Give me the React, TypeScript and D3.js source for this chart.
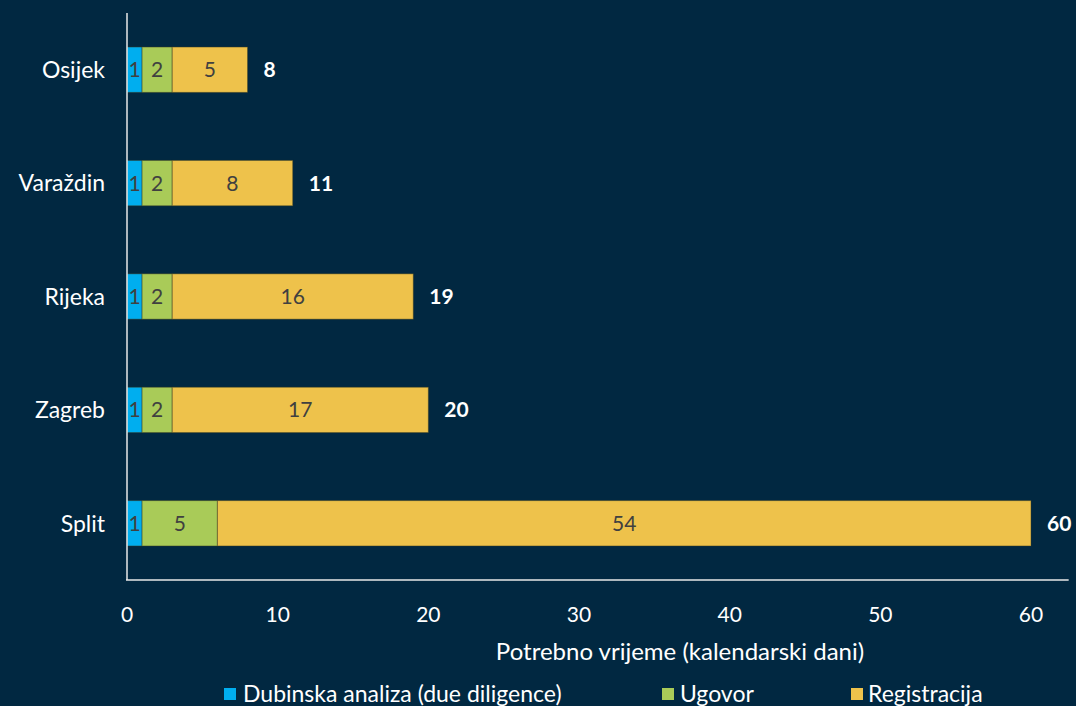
import React from "react";
import * as d3 from "d3";

const cities = ["Osijek", "Varaždin", "Rijeka", "Zagreb", "Split"];
const dueDiligence = [1, 1, 1, 1, 1];
const ugovor = [2, 2, 2, 2, 5];
const registracija = [5, 8, 16, 17, 54];
const totals = [8, 11, 19, 20, 60];
const xTicks = [0, 10, 20, 30, 40, 50, 60];
const seriesNames = ["Dubinska analiza (due diligence)", "Ugovor", "Registracija"];
const seriesColors = ["#00AEEF", "#A9CB58", "#EEC24B"];

const W = 1076;
const H = 706;
const BG = "#012841";
const FONT = "Lato, 'Open Sans', sans-serif";

export default function App() {
  const x = d3.scaleLinear().domain([0, 60]).range([127, 1031]);
  const y = d3.scaleBand<string>().domain(cities).range([13, 580]).paddingInner(0.6).paddingOuter(0.3);
  const seriesVals = [dueDiligence, ugovor, registracija];
  const rows = cities.map((c, i) => {
    const obj: any = { city: c };
    seriesVals.forEach((s, k) => (obj["s" + k] = s[i]));
    return obj;
  });
  const stack = d3.stack<any>().keys(["s0", "s1", "s2"])(rows);
  const legendX = [224, 662, 851];
  const legendGap = [19, 18, 17];

  return (
    <svg width={W} height={H} style={{ position: "absolute", left: 0, top: 0, background: BG }} fontFamily={FONT}>
      <rect x={0} y={0} width={W} height={H} fill={BG} />
      {stack.map((layer, k) =>
        layer.map((d, i) => {
          const x0 = x(d[0]);
          const x1 = x(d[1]);
          const yy = y(cities[i])!;
          return (
            <g key={k + "-" + i}>
              <rect x={x0} y={yy} width={x1 - x0} height={y.bandwidth()} fill={seriesColors[k]} stroke="rgba(60,60,30,0.45)" strokeWidth={1} />
              <text x={(x0 + x1) / 2} y={yy + y.bandwidth() / 2} dy="0.36em" textAnchor="middle" fontSize={21} fill="#404040">
                {seriesVals[k][i]}
              </text>
            </g>
          );
        })
      )}
      {cities.map((c, i) => (
        <g key={c}>
          <text x={105} y={y(c)! + y.bandwidth() / 2} dy="0.36em" textAnchor="end" fontSize={23} fill="#ffffff">
            {c}
          </text>
          <text x={x(totals[i]) + 16} y={y(c)! + y.bandwidth() / 2} dy="0.36em" fontSize={21} fontWeight="bold" fill="#ffffff">
            {totals[i]}
          </text>
        </g>
      ))}
      <line x1={127} x2={127} y1={13} y2={580} stroke="#e8e8e8" strokeWidth={1.5} />
      <line x1={126} x2={x(62.5)} y1={580} y2={580} stroke="#e8e8e8" strokeWidth={1.5} />
      {xTicks.map((t) => (
        <text key={t} x={x(t)} y={622} textAnchor="middle" fontSize={21} fill="#ffffff">
          {t}
        </text>
      ))}
      <text x={680} y={660} textAnchor="middle" fontSize={24} fill="#ffffff">
        Potrebno vrijeme (kalendarski dani)
      </text>
      {seriesNames.map((n, k) => (
        <g key={n}>
          <rect x={legendX[k]} y={688} width={12} height={12} fill={seriesColors[k]} />
          <text x={legendX[k] + legendGap[k]} y={702} fontSize={23} fill="#ffffff">
            {n}
          </text>
        </g>
      ))}
    </svg>
  );
}
